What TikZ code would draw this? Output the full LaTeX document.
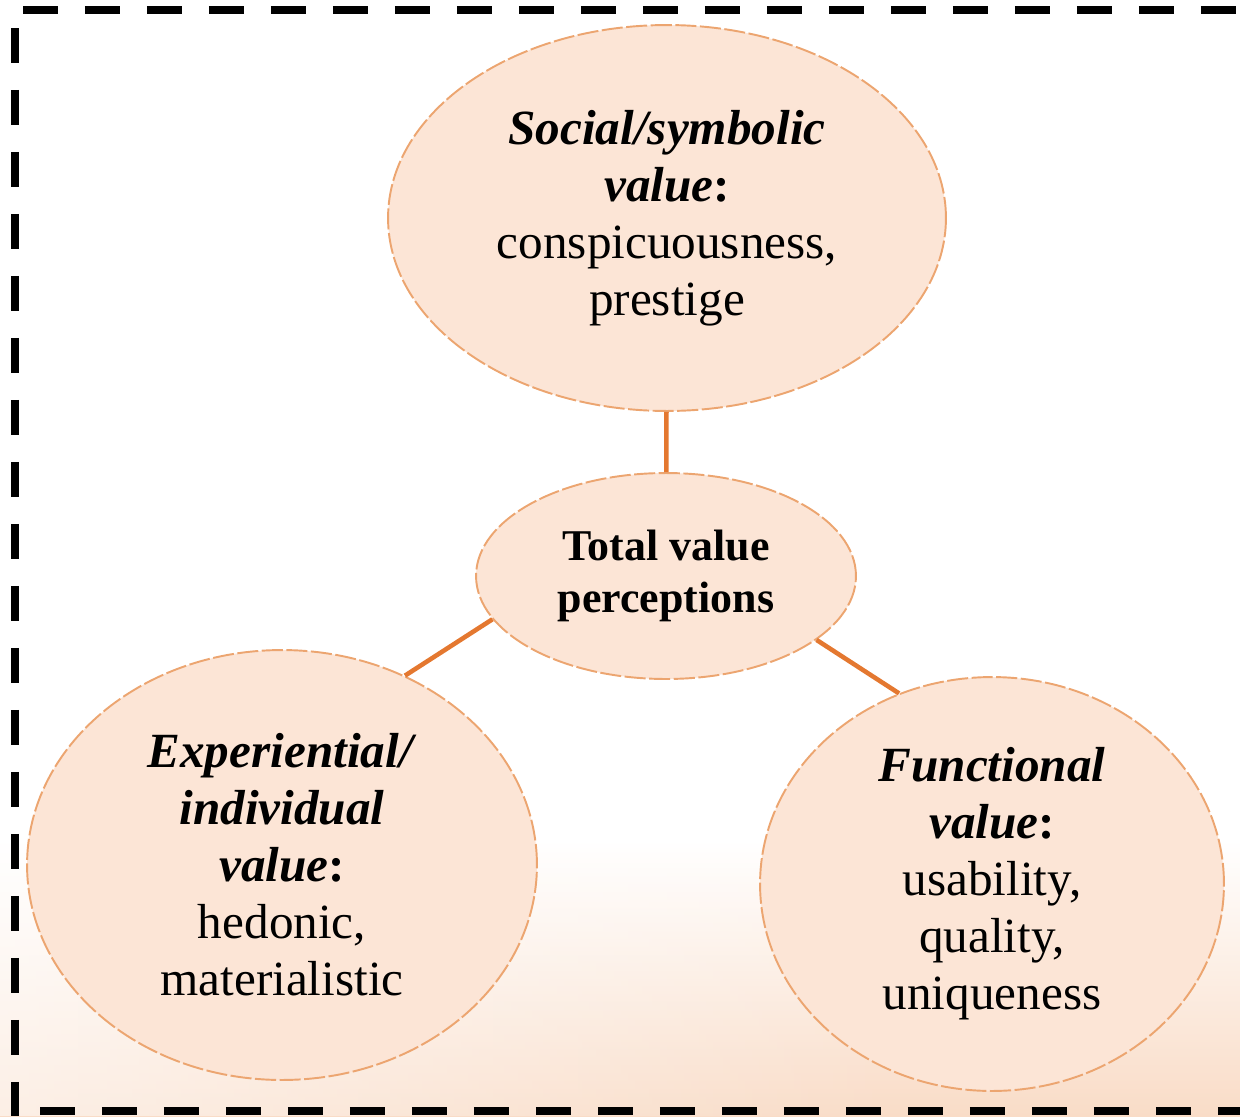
\documentclass[tikz,border=0pt]{standalone}
\usepackage{fontspec}
\setmainfont{Liberation Serif}
\usetikzlibrary{shapes.geometric, positioning, fadings}

\definecolor{peachfill}{RGB}{252,229,214}
\definecolor{peachedge}{RGB}{236,165,112}
\definecolor{linkorange}{RGB}{228,120,48}
\definecolor{peachbg}{RGB}{249,220,199}

\tikzset{
  valuebubble/.style={ellipse, draw=peachedge, fill=peachfill, line width=1.1pt,
    dash pattern=on 12pt off 2pt, inner sep=0pt, align=center,
    font=\fontsize{28}{32.4}\selectfont},
  link/.style={draw=linkorange, line width=2.6pt},
  frameline/.style={line width=5.1pt, dash pattern=on 0.7cm off 0.54cm}
}

\begin{document}
\begin{tikzpicture}[x=0.02cm, y=-0.02cm]
\useasboundingbox (0,0) rectangle (1240,1116);
\clip (0,0) rectangle (1240,1116);

% soft peach band at the bottom, lighter on the left
\shade[top color=white, bottom color=peachbg] (0,840) rectangle (1240,1116);
\fill[white, fill opacity=0.55, path fading=east] (0,840) rectangle (900,1116);

% dashed frame (right side runs off the page)
\draw[frameline] (15,28) -- (15,1116);
\draw[frameline] (23,10) -- (1240,10);
\draw[frameline] (40,1111) -- (1240,1111);

% value bubbles
\node (total) [valuebubble, minimum width=7.6cm, minimum height=4.12cm,
  font=\fontsize{25}{29.5}\selectfont\bfseries] at (666,576)
  {Total value\\ perceptions};
\node (social) [valuebubble, minimum width=11.16cm, minimum height=7.72cm] at (667,218)
  {\textbf{\textit{Social/symbolic}}\\ \textbf{\textit{value}:}\\ conspicuousness,\\ prestige};
\node (exp) [valuebubble, minimum width=10.2cm, minimum height=8.6cm] at (282,865)
  {\textbf{\textit{Experiential/}}\\ \textbf{\textit{individual}}\\ \textbf{\textit{value}:}\\ hedonic,\\ materialistic};
\node (fun) [valuebubble, minimum width=9.28cm, minimum height=8.28cm] at (992,884)
  {\textbf{\textit{Functional}}\\ \textbf{\textit{value}:}\\ usability,\\ quality,\\ uniqueness};

\draw[link] (social) -- (total);
\draw[link] (total.194) -- (exp.57);
\draw[link] (total.-23) -- (fun.116);
\end{tikzpicture}
\end{document}
